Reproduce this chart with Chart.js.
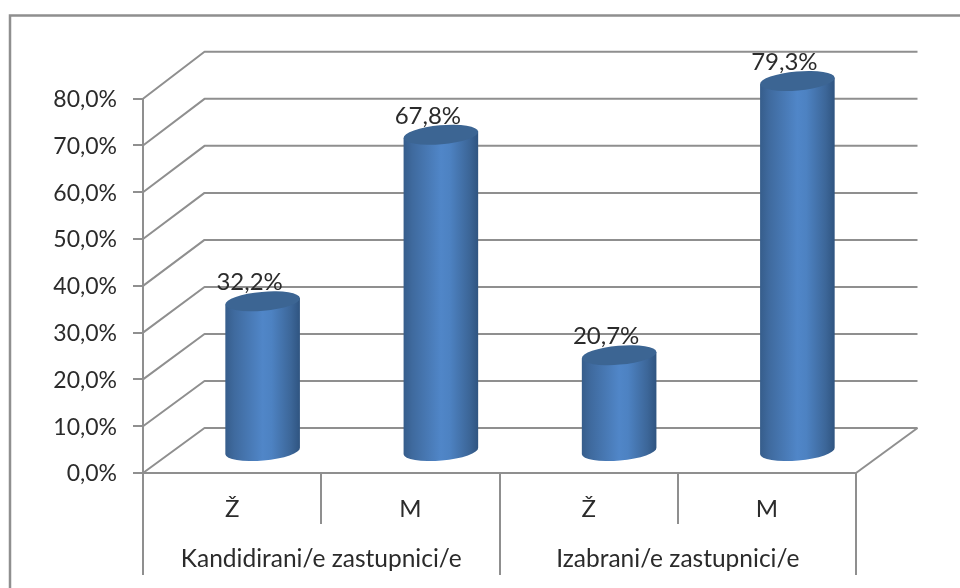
<!DOCTYPE html>
<html><head><meta charset="utf-8">
<style>html,body{margin:0;padding:0;background:#fff}canvas{display:block}</style>
<script src="https://cdn.jsdelivr.net/npm/chart.js@4"></script>
</head><body><canvas id="c" width="960" height="588"></canvas>
<script>
const categories = ['Ž','M','Ž','M'];
const groups = ['Kandidirani/e zastupnici/e','Izabrani/e zastupnici/e'];
const values = [32.2,67.8,20.7,79.3];
const yTicks = [0,10,20,30,40,50,60,70,80];
const fmt = v => v.toFixed(1).replace('.',',') + '%';

const LINE = '#8f8f8f', TEXT = '#2b2b2b', FONT = {family:'Lato', size:23};
const DEPTH_X = 61.5;
const backY = p => p - 45 + (p - 473) * 0.005;
const MID = {x:30.5, y:-21};
const TILT = -5*Math.PI/180, RY = 9.5;

const scene = {
  id:'scene',
  beforeDraw(chart){
    const c = chart.ctx;
    c.save(); c.strokeStyle = LINE; c.lineWidth = 2.5;
    c.beginPath(); c.moveTo(10,588); c.lineTo(10,15.5); c.lineTo(960,15.5); c.stroke();
    c.restore();
  },
  beforeDatasetsDraw(chart){
    const c = chart.ctx, y = chart.scales.y, a = chart.chartArea;
    c.save(); c.strokeStyle = LINE; c.lineWidth = 2; c.lineJoin='round';
    yTicks.forEach(t=>{
      const p = y.getPixelForValue(t);
      c.beginPath(); c.moveTo(a.left,p); c.lineTo(a.left+DEPTH_X,backY(p)); c.lineTo(a.right+DEPTH_X,backY(p)); c.stroke();
    });
    const p0 = y.getPixelForValue(0);
    c.beginPath(); c.moveTo(a.right,p0); c.lineTo(a.right+DEPTH_X,backY(p0)); c.stroke();
    c.restore();
  },
  beforeDatasetDraw(chart,args){
    const c = chart.ctx;
    args.meta.data.forEach(el=>{
      const cx = el.x+MID.x, yt = el.y+MID.y, yb = el.base+MID.y, rx = el.width/2;
      const ex = rx*Math.cos(TILT), ey = rx*Math.sin(TILT);
      const g = c.createLinearGradient(cx-rx,0,cx+rx,0);
      g.addColorStop(0,'#365d8b'); g.addColorStop(0.12,'#3f6a9e'); g.addColorStop(0.5,'#5086c8'); g.addColorStop(0.62,'#4d82c2'); g.addColorStop(0.88,'#3c6698'); g.addColorStop(1,'#2f5480');
      c.save();
      c.fillStyle = g;
      c.beginPath();
      c.moveTo(cx-ex,yt-ey);
      c.lineTo(cx-ex,yb-ey);
      c.ellipse(cx,yb,rx,RY,TILT,Math.PI,0,true);
      c.lineTo(cx+ex,yt+ey);
      c.closePath(); c.fill();
      c.fillStyle = '#3c6593';
      c.beginPath(); c.ellipse(cx,yt,rx,RY,TILT,0,Math.PI*2); c.fill();
      c.restore();
    });
    return false;
  },
  afterDatasetsDraw(chart){
    const c = chart.ctx, meta = chart.getDatasetMeta(0);
    c.save(); c.fillStyle = TEXT; c.font = '24px '+FONT.family; c.textAlign='center'; c.textBaseline='middle';
    meta.data.forEach((el,i)=>{ c.fillText(fmt(values[i]), el.x+MID.x-13, el.y+MID.y-19); });
    c.restore();
  }
};

new Chart(document.getElementById('c'),{
  type:'bar',
  data:{labels:categories,datasets:[{data:values,backgroundColor:'#4f81bd',barPercentage:0.42,categoryPercentage:1,clip:false}]},
  plugins:[scene],
  options:{
    responsive:false,animation:false,
    layout:{padding:{top:98.7,right:104,left:0,bottom:0}},
    plugins:{legend:{display:false},tooltip:{enabled:false}},
    scales:{
      y:{min:0,max:80,
        afterFit(s){s.width=143;},
        afterBuildTicks(s){s.ticks=yTicks.map(v=>({value:v}));},
        grid:{drawOnChartArea:false,color:LINE,lineWidth:2,tickLength:10},
        border:{color:LINE,width:2},
        ticks:{font:FONT,color:TEXT,padding:16,labelOffset:1,callback:v=>fmt(v)}},
      x:{weight:0,
        afterFit(s){s.height=51;},
        grid:{drawOnChartArea:false,color:LINE,lineWidth:2,tickLength:51,offset:true},
        border:{color:LINE,width:2},
        ticks:{font:{family:'Lato',size:24},color:TEXT,padding:-29,autoSkip:false,maxRotation:0,minRotation:0}},
      group:{type:'category',axis:'x',position:'bottom',labels:groups,offset:true,weight:1,
        afterFit(s){s.height=64;},
        grid:{drawOnChartArea:false,color:LINE,lineWidth:2,tickLength:51,offset:true},
        border:{display:false},
        ticks:{font:{family:'Lato',size:24.5},color:TEXT,padding:-31,autoSkip:false,maxRotation:0,minRotation:0}}
    }
  }
});
</script></body></html>
